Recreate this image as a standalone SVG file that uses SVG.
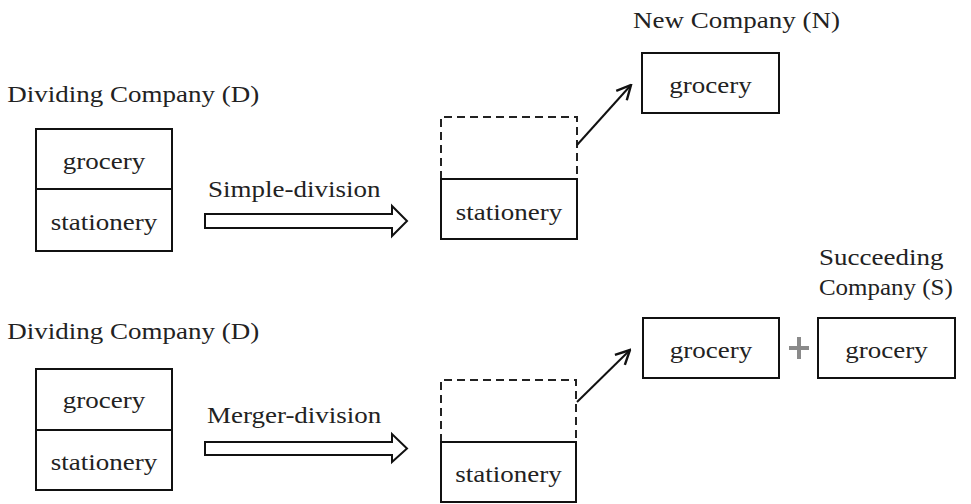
<svg xmlns="http://www.w3.org/2000/svg" width="971" height="504" viewBox="0 0 971 504">
<style>
text{font-family:'Liberation Serif',serif;font-size:24px;fill:#222}
.c{text-anchor:middle}
.sx{transform:scale(1.125,1)}
.sx2{transform:scale(1.04,1)}
.box{fill:#fff;stroke:#111;stroke-width:2}
.dash{fill:none;stroke:#222;stroke-width:2;stroke-dasharray:8 5}
.hollow{fill:#fff;stroke:#111;stroke-width:2;stroke-linejoin:miter}
.line{fill:none;stroke:#111;stroke-width:2}
.plus{stroke:#8a8a8a;stroke-width:4}
</style>
<defs>
<marker id="open" viewBox="0 0 12 12" refX="11" refY="6" markerWidth="17" markerHeight="17" markerUnits="userSpaceOnUse" orient="auto">
<path d="M1,1 L11,6 L1,11" fill="none" stroke="#111" stroke-width="1.7"/>
</marker>
</defs>
<rect width="971" height="504" fill="#fff"/>

<g id="label-top-dividing"><text class="sx" x="6.5" y="102">Dividing Company (D)</text></g>
<g id="label-bottom-dividing"><text class="sx" x="6.5" y="339">Dividing Company (D)</text></g>

<g id="top-D">
<rect class="box" x="36" y="129" width="136" height="60"/>
<rect class="box" x="36" y="189" width="136" height="62"/>
<text class="c sx" x="92.4" y="169">grocery</text>
<text class="c sx" x="92.4" y="230">stationery</text>
</g>

<g id="bottom-D">
<rect class="box" x="36" y="369" width="136" height="61"/>
<rect class="box" x="36" y="430" width="136" height="60"/>
<text class="c sx" x="92.4" y="408">grocery</text>
<text class="c sx" x="92.4" y="470">stationery</text>
</g>

<g id="top-remaining">
<path class="dash" d="M441,179 V117 H577 V179"/>
<rect class="box" x="441" y="179" width="136" height="60"/>
<text class="c sx" x="452.4" y="220">stationery</text>
</g>

<g id="bottom-remaining">
<path class="dash" d="M441,442 V380 H576 V442"/>
<rect class="box" x="441" y="442" width="135" height="60"/>
<text class="c sx" x="452" y="482">stationery</text>
</g>

<g id="new-company">
<text class="sx" x="562.7" y="28">New Company (N)</text>
<rect class="box" x="642" y="53" width="137" height="60"/>
<text class="c sx" x="631.6" y="93">grocery</text>
</g>

<g id="transferred-grocery">
<rect class="box" x="643" y="318" width="136" height="60"/>
<text class="c sx" x="632" y="358">grocery</text>
</g>

<g id="plus">
<line class="plus" x1="789" y1="348" x2="809" y2="348"/>
<line class="plus" x1="799" y1="337" x2="799" y2="359"/>
</g>

<g id="succeeding-company">
<text class="sx" x="728" y="265">Succeeding</text>
<text class="sx2" x="787.5" y="295">Company (S)</text>
<rect class="box" x="818" y="318" width="137" height="60"/>
<text class="c sx" x="788" y="358">grocery</text>
</g>

<g id="connectors">
<text class="sx" x="184.9" y="197">Simple-division</text>
<polygon class="hollow" points="205,214 392,214 392,206 407,221 392,236 392,228 205,228"/>
<text class="sx" x="184" y="423">Merger-division</text>
<polygon class="hollow" points="205,442 392,442 392,434 407,448.5 392,462 392,455 205,455"/>
<line class="line" x1="577" y1="145" x2="631" y2="85" marker-end="url(#open)"/>
<line class="line" x1="577" y1="402" x2="630" y2="350" marker-end="url(#open)"/>
</g>
</svg>
